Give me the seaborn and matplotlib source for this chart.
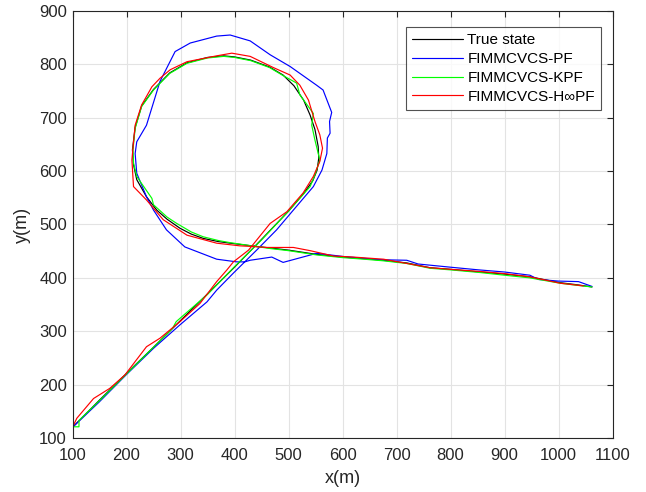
import matplotlib
matplotlib.use("Agg")
import matplotlib.pyplot as plt
import seaborn as sns
import pandas as pd

# Trajectory of the target and the three filter estimates (metres)
truth_x = [100, 150, 200, 250, 300, 350, 400, 450, 500, 528, 545, 553, 556, 555, 549, 540,
           528, 510, 490, 465, 430, 400, 380, 350, 312, 280, 250, 228, 216, 211, 213, 219,
           237, 256, 275, 299, 320, 342, 370, 392, 432, 466, 500, 552, 600, 640, 675, 719,
           762, 800, 855, 900, 947, 1003, 1035, 1062]
truth_y = [120, 171, 221, 270, 320, 370, 420, 472, 525, 558, 582, 602, 624, 646, 678, 705,
           733, 760, 780, 795, 808, 814, 816, 813, 803, 784, 753, 722, 682, 640, 612, 584,
           552, 527, 510, 493, 482, 474, 468, 465, 460, 456, 452, 444, 439, 436, 433, 428,
           419, 416, 411, 407, 402, 391, 387, 383]

pf_x = [100, 150, 200, 250, 299, 349, 367, 398, 416, 441, 478, 509, 546, 562, 571, 572,
        577, 576, 580, 564, 552, 503, 466, 429, 392, 367, 318, 290, 262, 237, 219, 216,
        219, 237, 250, 274, 308, 367, 404, 419, 429, 469, 490, 552, 602, 669, 719, 740,
        800, 852, 900, 947, 963, 1000, 1037, 1062]
pf_y = [120, 168, 219, 268, 312, 355, 377, 409, 427, 452, 490, 527, 571, 602, 633, 662,
        671, 693, 710, 752, 761, 796, 818, 844, 855, 853, 840, 824, 768, 686, 655, 633,
        596, 552, 527, 490, 458, 435, 430, 430, 433, 439, 429, 446, 440, 434, 433, 426,
        420, 415, 411, 405, 397, 394, 393, 384]

kpf_x = [100, 112, 112, 150, 200, 250, 285, 292, 350, 400, 450, 500, 540, 549, 558, 549,
         543, 546, 521, 515, 490, 465, 430, 400, 380, 350, 312, 280, 250, 228, 216, 212,
         213, 219, 247, 250, 275, 293, 320, 342, 370, 392, 432, 466, 500, 552, 600, 640,
         675, 719, 762, 800, 855, 900, 947, 1003, 1035, 1062]
kpf_y = [121, 121, 133, 170, 220, 270, 305, 318, 369, 421, 471, 525, 571, 593, 621, 658,
         686, 708, 743, 765, 779, 794, 807, 813, 815, 812, 802, 783, 752, 721, 680, 640,
         615, 590, 549, 537, 514, 502, 486, 477, 470, 466, 460, 455, 451, 443, 438, 435,
         432, 427, 418, 415, 410, 405, 400, 390, 386, 383]

hpf_x = [100, 108, 139, 169, 197, 237, 262, 299, 336, 367, 386, 398, 426, 466, 497, 527,
         546, 558, 563, 558, 549, 537, 521, 503, 472, 429, 395, 367, 312, 281, 262, 247,
         237, 228, 216, 212, 210, 213, 237, 268, 312, 367, 410, 429, 460, 509, 540, 583,
         620, 676, 719, 762, 800, 855, 900, 947, 1003, 1046]
hpf_y = [120, 137, 174, 193, 218, 271, 287, 318, 352, 393, 415, 430, 452, 502, 524, 559,
         590, 618, 643, 668, 693, 733, 761, 780, 794, 815, 821, 816, 805, 790, 774, 758,
         740, 724, 686, 643, 621, 571, 546, 509, 480, 465, 460, 459, 457, 457, 451, 441,
         439, 435, 427, 419, 416, 412, 408, 402, 390, 385]

labels = ["True state", "FIMMCVCS-PF", "FIMMCVCS-KPF", "FIMMCVCS-H\u221ePF"]
colors = ["#000000", "#0000ff", "#00ff00", "#ff0000"]
series = [(truth_x, truth_y), (pf_x, pf_y), (kpf_x, kpf_y), (hpf_x, hpf_y)]

x_ticks = list(range(100, 1101, 100))
y_ticks = list(range(100, 901, 100))

sns.set_theme(style="white")
plt.rcParams["font.family"] = ["Liberation Sans", "DejaVu Sans"]

fig = plt.figure(figsize=(6.46, 4.92), dpi=100)
ax = fig.add_axes([72.5 / 646, 1 - 438 / 492, 540 / 646, 427 / 492])

for (xs, ys), lab, col in zip(series, labels, colors):
    df = pd.DataFrame({"x": xs, "y": ys})
    sns.lineplot(data=df, x="x", y="y", sort=False, estimator=None, ax=ax,
                 color=col, linewidth=0.85, label=lab)

ax.set_xlim(100, 1100)
ax.set_ylim(100, 900)
ax.set_xticks(x_ticks)
ax.set_yticks(y_ticks)
ax.grid(True, color="#e3e3e3", linewidth=0.8)
ax.set_axisbelow(True)
for s in ax.spines.values():
    s.set_visible(True)
    s.set_linewidth(0.8)
    s.set_color("#262626")
ax.tick_params(direction="in", length=4, width=0.8, top=True, right=True,
               labelsize=12, colors="#262626")
ax.tick_params(axis="x", pad=7)
ax.tick_params(axis="y", pad=4)
ax.set_xlabel("x(m)", fontsize=13, color="#262626", labelpad=5)
ax.set_ylabel("y(m)", fontsize=13, color="#262626", labelpad=6)

leg = ax.legend(loc="upper right", bbox_to_anchor=(0.9787, 0.9625), borderaxespad=0,
                fontsize=11, frameon=True, fancybox=False, shadow=False,
                handlelength=3.3, handletextpad=0.3, labelspacing=0.32,
                borderpad=0.4)
leg.get_frame().set_edgecolor("#262626")
leg.get_frame().set_linewidth(0.8)
for t in leg.get_texts():
    t.set_color("#000000")

fig.savefig("out.png", dpi=100)
